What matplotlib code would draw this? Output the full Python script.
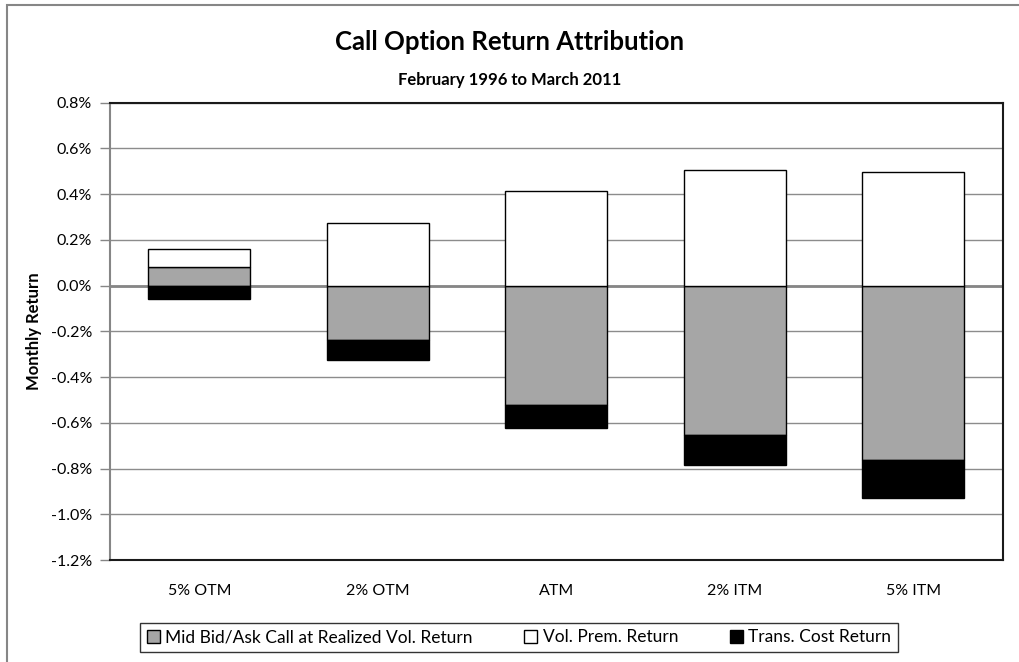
import matplotlib
matplotlib.use("Agg")
import matplotlib.pyplot as plt
import matplotlib.ticker as mtick
from matplotlib.patches import Rectangle
import numpy as np

plt.rcParams['font.family'] = ['Lato', 'DejaVu Sans']

# Werte in Prozent (monatlich)
categories = ["5% OTM", "2% OTM", "ATM", "2% ITM", "5% ITM"]
mid_return = [0.082, -0.240, -0.520, -0.655, -0.764]
vol_prem_return = [0.076, 0.272, 0.415, 0.504, 0.496]
trans_cost_return = [-0.058, -0.085, -0.101, -0.128, -0.166]

series = [
    ("Mid Bid/Ask Call at Realized Vol. Return", mid_return, '#A6A6A6'),
    ("Vol. Prem. Return", vol_prem_return, 'white'),
    ("Trans. Cost Return", trans_cost_return, 'black'),
]

W, H = 1020, 662
fig = plt.figure(figsize=(W / 100, H / 100), dpi=100)
ax = fig.add_axes([110 / W, 1 - 560 / H, (1002.5 - 110) / W, (560 - 102.7) / H])

x = np.arange(len(categories))
pos_base = np.zeros(len(categories))
neg_base = np.zeros(len(categories))
handles = []
for label, vals, col in series:
    vals = np.array(vals)
    bottom = np.where(vals >= 0, pos_base, neg_base)
    b = ax.bar(x, vals, bottom=bottom, width=0.574, color=col, edgecolor='black',
               linewidth=1.0, label=label, zorder=3)
    handles.append(b)
    pos_base = pos_base + np.where(vals >= 0, vals, 0)
    neg_base = neg_base + np.where(vals < 0, vals, 0)

ax.set_xlim(-0.5, len(categories) - 0.5)
ax.set_ylim(-1.2, 0.8)
ax.set_yticks(np.arange(-1.2, 0.81, 0.2))
ax.yaxis.set_major_formatter(mtick.FuncFormatter(
    lambda v, p: "%.1f%%" % (0.0 if abs(v) < 1e-9 else v)))
ax.set_xticks(x)
ax.set_xticklabels(categories)
ax.tick_params(axis='x', length=0, pad=17, labelsize=11.5)
ax.tick_params(axis='y', length=7, width=1, color='#868686', pad=6, labelsize=11.5)

ax.grid(axis='y', color='#8C8C8C', linewidth=1.0, zorder=1)
ax.axhline(0, color='#868686', linewidth=2.0, zorder=2)

for s in ['top', 'right', 'bottom']:
    ax.spines[s].set_color('#1a1a1a')
    ax.spines[s].set_linewidth(1.5)
ax.spines['left'].set_color('#868686')
ax.spines['left'].set_linewidth(1.5)

ax.set_ylabel("Monthly Return", fontsize=12, fontweight='bold', labelpad=6)

fig.text(0.5, 1 - 42 / H, "Call Option Return Attribution", ha='center', va='center',
         fontsize=18.5, fontweight='bold')
fig.text(0.5, 1 - 80 / H, "February 1996 to March 2011", ha='center', va='center',
         fontsize=12, fontweight='bold')

leg = fig.legend(handles=handles, loc='center', ncol=3,
                 bbox_to_anchor=(97 / W, 1 - 655 / H, (941 - 97) / W, 35 / H),
                 frameon=True, fancybox=False, fontsize=12.5, handlelength=0.75,
                 handleheight=0.75, handletextpad=0.3, columnspacing=3.0,
                 borderaxespad=0)
leg.get_frame().set_edgecolor('black')
leg.get_frame().set_linewidth(1.0)
leg.get_frame().set_boxstyle('square', pad=0.0)
for h in leg.legend_handles:
    h.set_linewidth(1.0)

# Diagrammrahmen
fig.patches.append(Rectangle((7 / W, -0.05), 1.1, 1 - 5 / H + 0.05, transform=fig.transFigure,
                             fill=False, edgecolor='#868686', linewidth=1.5))

fig.savefig("out.png", dpi=100)
